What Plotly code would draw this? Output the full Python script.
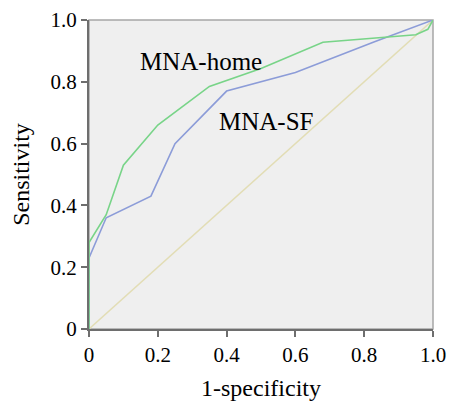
import plotly.graph_objects as go

# ROC curve points
home_fpr = [0, 0, 0.05, 0.10, 0.20, 0.35, 0.50, 0.68, 0.95, 0.985, 1.0]
home_tpr = [0, 0.28, 0.37, 0.53, 0.66, 0.785, 0.843, 0.928, 0.952, 0.97, 1.0]

sf_fpr = [0, 0, 0.05, 0.18, 0.25, 0.40, 0.60, 0.83, 1.0]
sf_tpr = [0, 0.23, 0.36, 0.43, 0.60, 0.77, 0.83, 0.93, 1.0]

ref_x = [0, 1]
ref_y = [0, 1]

tick_vals = [0, 0.2, 0.4, 0.6, 0.8, 1.0]
tick_text = ['0', '0.2', '0.4', '0.6', '0.8', '1.0']

font_family = 'Liberation Serif'

fig = go.Figure()

fig.add_trace(go.Scatter(x=ref_x, y=ref_y, mode='lines',
                         line=dict(color='#e2ddb5', width=1.5), hoverinfo='skip'))
fig.add_trace(go.Scatter(x=sf_fpr, y=sf_tpr, mode='lines', name='MNA-SF',
                         line=dict(color='#8c9cd8', width=1.6)))
fig.add_trace(go.Scatter(x=home_fpr, y=home_tpr, mode='lines', name='MNA-home',
                         line=dict(color='#78d488', width=1.6)))

# light frame on top and right
fig.add_shape(type='rect', xref='paper', yref='paper', x0=0, y0=0, x1=1, y1=1,
              line=dict(color='#a6a6a6', width=1.5), layer='below')

fig.add_annotation(x=0.325, y=0.865, text='MNA-home', showarrow=False,
                   font=dict(family=font_family, size=25, color='black'))
fig.add_annotation(x=0.515, y=0.67, text='MNA-SF', showarrow=False,
                   font=dict(family=font_family, size=25, color='black'))

axis_style = dict(
    range=[0, 1],
    tickvals=tick_vals,
    ticktext=tick_text,
    showgrid=False,
    zeroline=False,
    showline=True,
    linecolor='#6e6e6e',
    linewidth=2,
    ticks='outside',
    ticklen=6,
    tickwidth=1.5,
    tickcolor='#6e6e6e',
    tickfont=dict(family=font_family, size=21, color='black'),
    ticklabeloverflow='allow',
    automargin=False,
)

fig.update_xaxes(**axis_style, title=dict(text='1-specificity',
                 font=dict(family=font_family, size=24, color='black')))
fig.update_yaxes(**axis_style, title=dict(text='Sensitivity',
                 font=dict(family=font_family, size=24, color='black')))

# page body adds an 8px offset, so the figure is a little smaller than the window
fig.update_layout(
    width=456,
    height=393,
    margin=dict(l=81, r=31, t=12, b=72),
    plot_bgcolor='#efefef',
    paper_bgcolor='white',
    showlegend=False,
)

fig.write_html('out.html')
